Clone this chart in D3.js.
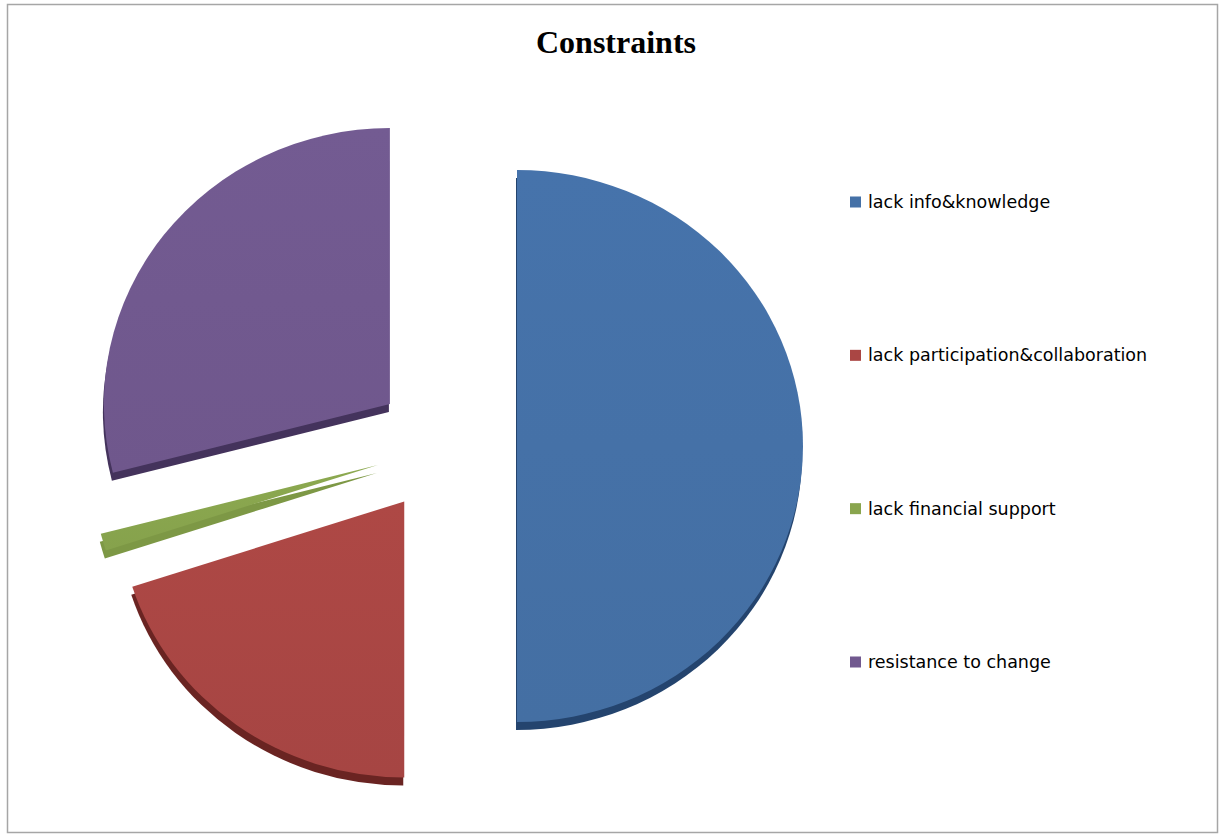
<!DOCTYPE html>
<html>
<head>
<meta charset="utf-8">
<script src="https://cdn.jsdelivr.net/npm/d3@7/dist/d3.min.js"></script>
<style>
  html, body { margin: 0; padding: 0; background: #fff; }
  svg { display: block; }
</style>
</head>
<body>
<script>
// Share of respondents naming each constraint (%)
const categories = [
  "lack info&knowledge",
  "lack participation&collaboration",
  "lack financial support",
  "resistance to change"
];
const values = [50, 20, 1, 29];
const colors = ["#4571a7", "#aa4644", "#89a54e", "#71598f"];
const sideColors = ["#24446e", "#6a2422", "#7d9845", "#44335c"];
const title = "Constraints";

const W = 1221, H = 837;
const svg = d3.select("body").append("svg").attr("width", W).attr("height", H);

// frame
svg.append("rect")
  .attr("x", 7.5).attr("y", 4.5).attr("width", 1210).attr("height", 828)
  .attr("fill", "#fff").attr("stroke", "#a6a6a6").attr("stroke-width", 1.5);

svg.append("text")
  .attr("x", 616).attr("y", 53)
  .attr("text-anchor", "middle")
  .attr("font-family", "'Liberation Serif', 'Times New Roman', serif")
  .attr("font-weight", "bold")
  .attr("font-size", 32)
  .attr("fill", "#000")
  .text(title);

// exploded pie with a thin 3D edge
const cx = 446, cy = 446, r = 286, squash = 0.965, explode = 71, depth = 8;

const pie = d3.pie().sort(null).value(d => d.value).startAngle(0).endAngle(2 * Math.PI);
const arcs = pie(categories.map((c, i) => ({ name: c, value: values[i], i })));
const arc = d3.arc().innerRadius(0).outerRadius(r);

const defs = svg.append("defs");
arcs.forEach(a => {
  const g = defs.append("linearGradient")
    .attr("id", "face" + a.data.i)
    .attr("x1", "0").attr("y1", "0").attr("x2", "0").attr("y2", "1");
  const base = d3.color(colors[a.data.i]);
  g.append("stop").attr("offset", "0%").attr("stop-color", base.brighter(0.06));
  g.append("stop").attr("offset", "100%").attr("stop-color", base.darker(0.06));
});

const pieG = svg.append("g");
const slices = pieG.selectAll("g.slice").data(arcs).join("g")
  .attr("class", "slice")
  .attr("transform", d => {
    const mid = (d.startAngle + d.endAngle) / 2;
    const ox = cx + explode * Math.sin(mid);
    const oy = cy - explode * Math.cos(mid) * squash;
    return `translate(${ox},${oy})`;
  });

// side (depth) of each slice
slices.append("path")
  .attr("transform", `translate(-1,${depth}) scale(1,${squash})`)
  .attr("d", arc)
  .attr("fill", d => sideColors[d.data.i]);

// top face
slices.append("path")
  .attr("transform", `scale(1,${squash})`)
  .attr("d", arc)
  .attr("fill", d => `url(#face${d.data.i})`);

// legend
const legendY = d3.scalePoint().domain(categories).range([202, 662]);
const leg = svg.append("g").selectAll("g").data(categories).join("g")
  .attr("transform", d => `translate(850,${legendY(d)})`);
leg.append("rect")
  .attr("x", 0).attr("y", -5.5).attr("width", 11).attr("height", 11)
  .attr("fill", (d, i) => colors[i]);
leg.append("text")
  .attr("x", 18).attr("y", 0).attr("dy", "0.35em")
  .attr("font-family", "'DejaVu Sans', Verdana, sans-serif")
  .attr("font-size", 17.5)
  .attr("fill", "#000")
  .text(d => d);
</script>
</body>
</html>
